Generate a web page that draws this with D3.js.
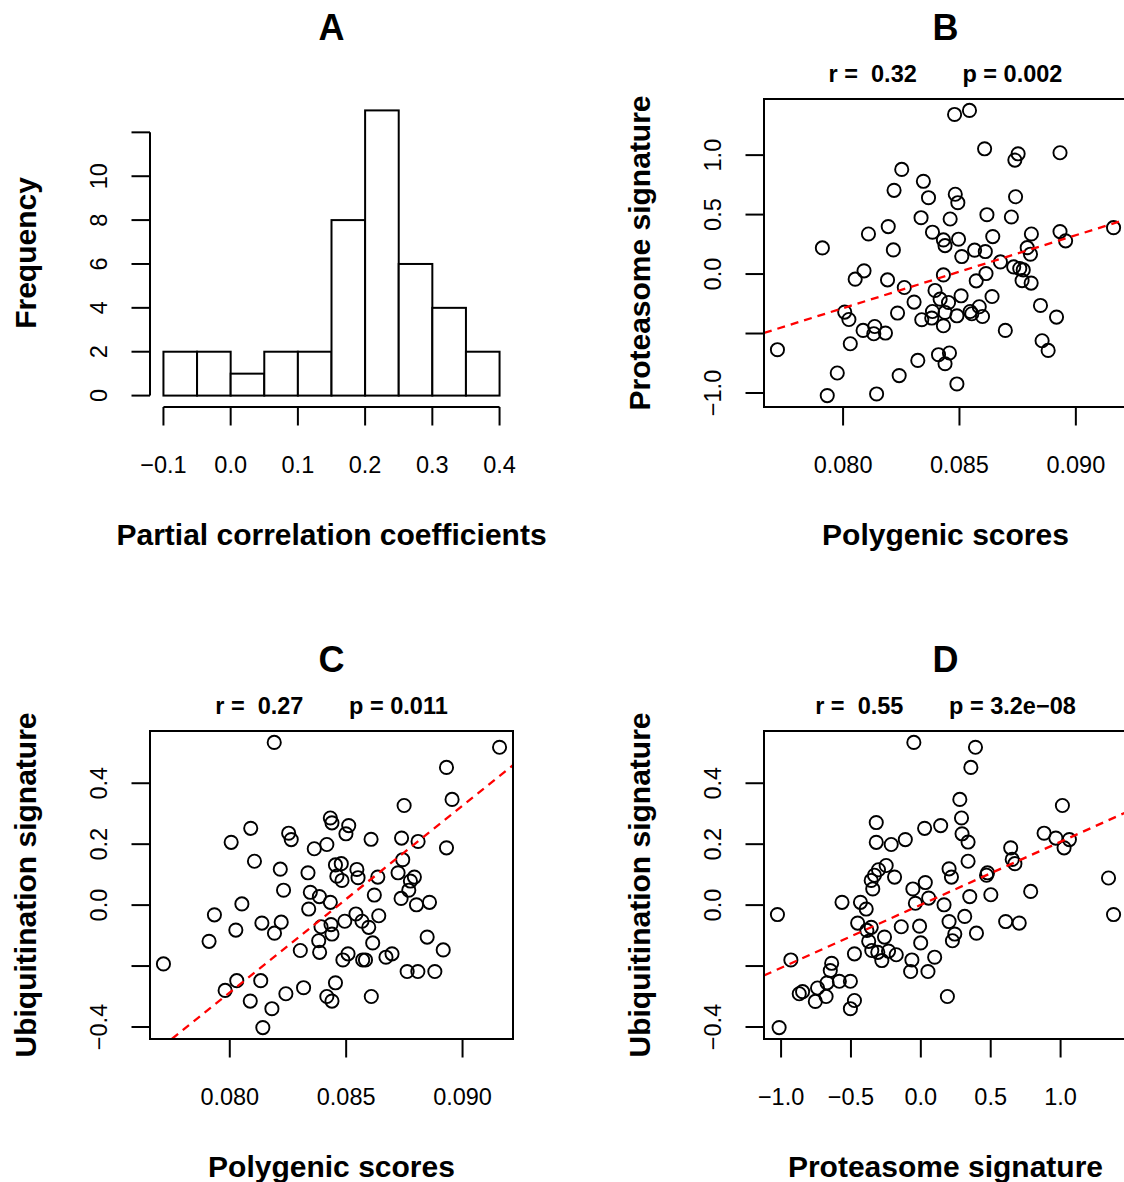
<!DOCTYPE html>
<html>
<head>
<meta charset="utf-8">
<script src="https://cdn.jsdelivr.net/npm/d3@7"></script>
<style>
  body { margin: 0; background: #fff; }
  svg { display: block; font-family: 'Liberation Sans', Arial, Helvetica, sans-serif; }
</style>
</head>
<body>
<svg id="fig" width="1124" height="1182"></svg>
<script>
// ---- A: histogram of partial correlation coefficients
const histBreaks = [-0.1, -0.05, 0, 0.05, 0.1, 0.15, 0.2, 0.25, 0.3, 0.35, 0.4];
const histCounts = [2, 2, 1, 2, 2, 8, 13, 6, 4, 2];
const histXTicks = [-0.1, 0, 0.1, 0.2, 0.3, 0.4];
const histYTicks = [0, 2, 4, 6, 8, 10, 12];
const histYLabels = ['0', '2', '4', '6', '8', '10', ''];

// ---- B: polygenic scores vs proteasome signature
const polygenicB = [0.08479, 0.08543, 0.08608, 0.08752, 0.08738, 0.08932, 0.08252, 0.08345, 0.08219, 0.08367,
  0.08482, 0.08493, 0.08741, 0.08335, 0.08460, 0.08618, 0.08723, 0.07911, 0.08109, 0.08194,
  0.08216, 0.08384, 0.08431, 0.08438, 0.08496, 0.08510, 0.08565, 0.08611, 0.08643, 0.08809,
  0.08932, 0.08956, 0.09162, 0.08791, 0.08805, 0.08676, 0.08733, 0.08759, 0.08774, 0.08769,
  0.08808, 0.08090, 0.08052, 0.08191, 0.08431, 0.08572, 0.08614, 0.08263, 0.08395, 0.08417,
  0.08453, 0.08507, 0.08640, 0.08305, 0.08007, 0.08025, 0.08234, 0.08338, 0.08384, 0.08381,
  0.08438, 0.08489, 0.08546, 0.08553, 0.08585, 0.08599, 0.08848, 0.08917, 0.08086, 0.08136,
  0.08132, 0.08182, 0.08031, 0.08431, 0.08697, 0.07718, 0.08855, 0.08881, 0.08321, 0.08410,
  0.08457, 0.08438, 0.07975, 0.08241, 0.07932, 0.08144, 0.08489];
const proteasomeB = [1.342, 1.376, 1.053, 1.011, 0.958, 1.020, 0.880, 0.780, 0.704, 0.642,
  0.671, 0.600, 0.650, 0.474, 0.463, 0.499, 0.480, 0.220, 0.337, 0.399,
  0.203, 0.352, 0.287, 0.239, 0.293, 0.147, 0.201, 0.189, 0.315, 0.337,
  0.357, 0.279, 0.390, 0.222, 0.167, 0.102, 0.060, 0.046, 0.035, -0.055,
  -0.076, 0.027, -0.043, -0.049, -0.007, -0.057, 0.004, -0.113, -0.138, -0.211,
  -0.239, -0.183, -0.189, -0.236, -0.320, -0.382, -0.328, -0.384, -0.315, -0.370,
  -0.323, -0.351, -0.315, -0.334, -0.275, -0.357, -0.264, -0.362, -0.474, -0.441,
  -0.502, -0.496, -0.586, -0.435, -0.474, -0.636, -0.561, -0.642, -0.726, -0.678,
  -0.664, -0.754, -0.832, -0.854, -1.022, -1.008, -0.924];

// ---- C: polygenic scores vs ubiquitination signature
const polygenicC = [0.08191, 0.09159, 0.08931, 0.08955, 0.08749, 0.08432, 0.08439, 0.08511, 0.08499, 0.08090,
  0.08253, 0.08264, 0.08006, 0.08607, 0.08738, 0.08809, 0.08931, 0.08417, 0.08363, 0.08106,
  0.08217, 0.08336, 0.08743, 0.08454, 0.08479, 0.08546, 0.08723, 0.08793, 0.08636, 0.08460,
  0.08482, 0.08551, 0.08776, 0.08231, 0.08346, 0.08385, 0.08432, 0.08621, 0.08736, 0.08769,
  0.08802, 0.08858, 0.08052, 0.07934, 0.08339, 0.08640, 0.08542, 0.08568, 0.08597, 0.08494,
  0.08435, 0.08392, 0.08138, 0.08221, 0.08192, 0.08026, 0.08439, 0.08382, 0.07911, 0.08614,
  0.08848, 0.08917, 0.08303, 0.08386, 0.08508, 0.08486, 0.08571, 0.08583, 0.08671, 0.08697,
  0.07715, 0.08762, 0.08808, 0.08881, 0.08030, 0.08133, 0.08454, 0.07980, 0.08317, 0.08241,
  0.08417, 0.08439, 0.08608, 0.08088, 0.08181, 0.08142];
const ubiquitinationC = [0.534, 0.518, 0.452, 0.347, 0.327, 0.286, 0.270, 0.261, 0.234, 0.252,
  0.236, 0.215, 0.206, 0.216, 0.220, 0.209, 0.188, 0.199, 0.185, 0.144,
  0.118, 0.106, 0.149, 0.132, 0.136, 0.117, 0.106, 0.092, 0.092, 0.095,
  0.081, 0.090, 0.079, 0.049, 0.042, 0.028, 0.009, 0.033, 0.022, 0.049,
  0.001, 0.009, 0.004, -0.032, -0.013, -0.035, -0.029, -0.053, -0.073, -0.053,
  -0.064, -0.071, -0.059, -0.056, -0.092, -0.082, -0.095, -0.117, -0.119, -0.124,
  -0.105, -0.147, -0.149, -0.155, -0.160, -0.180, -0.180, -0.180, -0.171, -0.160,
  -0.193, -0.218, -0.218, -0.218, -0.248, -0.248, -0.255, -0.280, -0.271, -0.291,
  -0.300, -0.315, -0.300, -0.315, -0.340, -0.402];

// ---- D: proteasome signature vs ubiquitination signature
const proteasomeD = [-0.050, 0.391, 0.358, 0.279, 1.013, -0.319, 0.291, 0.027, 0.142, 0.295,
  0.338, -0.319, -0.212, -0.111, 0.882, 0.966, 1.063, 1.025, 0.643, 0.654,
  0.673, 0.338, 0.202, 0.219, -0.248, -0.303, -0.332, -0.355, -0.188, 0.477,
  0.470, 1.343, 0.032, -0.344, -0.057, -1.026, 1.379, -0.564, -0.432, -0.391,
  -0.039, 0.056, 0.166, 0.350, 0.501, 0.786, -0.452, -0.355, -0.140, -0.009,
  0.202, 0.314, 0.607, 0.704, 0.243, 0.226, 0.398, -0.260, -0.373, -0.351,
  -0.308, -0.279, -0.231, -0.176, -0.001, 0.099, -0.064, -0.073, 0.051, -0.475,
  -0.930, -0.638, -0.648, -0.583, -0.504, -0.671, -0.739, -0.846, -0.870, -0.755,
  -0.678, -0.475, -0.504, 0.190, -1.014, -0.386];
const ubiquitinationD = [0.534, 0.518, 0.452, 0.347, 0.327, 0.271, 0.286, 0.252, 0.261, 0.234,
  0.207, 0.206, 0.199, 0.215, 0.236, 0.220, 0.215, 0.188, 0.188, 0.150,
  0.136, 0.144, 0.119, 0.092, 0.130, 0.116, 0.098, 0.081, 0.092, 0.106,
  0.098, 0.089, 0.074, 0.053, 0.053, -0.031, -0.031, 0.009, 0.009, -0.013,
  0.006, 0.023, 0.001, 0.028, 0.034, 0.045, -0.059, -0.073, -0.071, -0.069,
  -0.054, -0.037, -0.054, -0.059, -0.095, -0.117, -0.092, -0.105, -0.119, -0.149,
  -0.155, -0.182, -0.151, -0.163, -0.124, -0.171, -0.180, -0.218, -0.218, -0.160,
  -0.180, -0.191, -0.215, -0.250, -0.250, -0.255, -0.272, -0.284, -0.291, -0.316,
  -0.300, -0.313, -0.340, -0.300, -0.402, -0.083];

const polyTicks = [0.080, 0.085, 0.090];
const polyLabels = ['0.080', '0.085', '0.090'];
const protTicks = [-1, -0.5, 0, 0.5, 1];
const protYLabels = ['\u22121.0', '', '0.0', '0.5', '1.0'];
const protXLabels = ['\u22121.0', '\u22120.5', '0.0', '0.5', '1.0'];
const ubiqTicks = [-0.4, -0.2, 0, 0.2, 0.4];
const ubiqLabels = ['\u22120.4', '', '0.0', '0.2', '0.4'];

const statsB = 'r =  0.32       p = 0.002';
const statsC = 'r =  0.27       p = 0.011';
const statsD = 'r =  0.55       p = 3.2e\u221208';

// ---- layout
const W = 363, H = 308;
const TICK = 18.5;
const svg = d3.select('#fig');

// R-style axis range: data range widened by 4% each side
function widen(ext) {
  const r = ext[1] - ext[0];
  return [ext[0] - 0.04 * r, ext[1] + 0.04 * r];
}

function panel(left, top, letter) {
  const g = svg.append('g').attr('transform', `translate(${left},${top})`);
  g.append('text')
    .attr('x', W / 2).attr('y', -59)
    .attr('text-anchor', 'middle')
    .attr('font-size', 36).attr('font-weight', 'bold')
    .text(letter);
  return g;
}

function bottomAxis(g, x, ticks, labels, lineFrom, lineTo) {
  if (lineFrom !== undefined) {
    g.append('line').attr('x1', x(lineFrom)).attr('x2', x(lineTo))
      .attr('y1', H).attr('y2', H).attr('stroke', '#000').attr('stroke-width', 2);
  }
  ticks.forEach((t, i) => {
    g.append('line').attr('x1', x(t)).attr('x2', x(t)).attr('y1', H).attr('y2', H + TICK)
      .attr('stroke', '#000').attr('stroke-width', 2);
    g.append('text').attr('x', x(t)).attr('y', H + 66)
      .attr('text-anchor', 'middle').attr('font-size', 23.5).text(labels[i]);
  });
}

function leftAxis(g, y, ticks, labels, lineFrom, lineTo) {
  if (lineFrom !== undefined) {
    g.append('line').attr('x1', 0).attr('x2', 0)
      .attr('y1', y(lineFrom)).attr('y2', y(lineTo)).attr('stroke', '#000').attr('stroke-width', 2);
  }
  ticks.forEach((t, i) => {
    g.append('line').attr('x1', -TICK).attr('x2', 0).attr('y1', y(t)).attr('y2', y(t))
      .attr('stroke', '#000').attr('stroke-width', 2);
    if (labels[i]) {
      g.append('text').attr('transform', `translate(-43,${y(t)}) rotate(-90)`)
        .attr('text-anchor', 'middle').attr('font-size', 23.5).text(labels[i]);
    }
  });
}

function axisTitles(g, xTitle, yTitle) {
  g.append('text').attr('x', W / 2).attr('y', H + 138)
    .attr('text-anchor', 'middle').attr('font-size', 30).attr('font-weight', 'bold').text(xTitle);
  g.append('text').attr('transform', `translate(-114.5,${H / 2}) rotate(-90)`)
    .attr('text-anchor', 'middle').attr('font-size', 30).attr('font-weight', 'bold').text(yTitle);
}

function lm(xs, ys) {
  const mx = d3.mean(xs), my = d3.mean(ys);
  let sxy = 0, sxx = 0;
  xs.forEach((v, i) => { sxy += (v - mx) * (ys[i] - my); sxx += (v - mx) * (v - mx); });
  const b = sxy / sxx;
  return { a: my - b * mx, b: b };
}

let clipId = 0;
function scatter(left, top, letter, xs, ys, opt) {
  const g = panel(left, top, letter);
  const x = d3.scaleLinear().domain(widen(d3.extent(xs))).range([0, W]);
  const y = d3.scaleLinear().domain(widen(d3.extent(ys))).range([H, 0]);

  g.append('text').attr('x', W / 2).attr('y', -17.3)
    .attr('text-anchor', 'middle').attr('font-size', 23.5).attr('font-weight', 'bold')
    .attr('xml:space', 'preserve').style('white-space', 'pre')
    .text(opt.stats);

  const id = 'clip' + (clipId++);
  g.append('clipPath').attr('id', id).append('rect').attr('width', W).attr('height', H);

  g.append('g').selectAll('circle')
    .data(xs.map((v, i) => [v, ys[i]]))
    .join('circle')
    .attr('cx', d => x(d[0])).attr('cy', d => y(d[1])).attr('r', 6.6)
    .attr('fill', 'none').attr('stroke', '#000').attr('stroke-width', 1.9);

  const fit = opt.fit;
  const [d0, d1] = x.domain();
  g.append('line').attr('clip-path', `url(#${id})`)
    .attr('x1', x(d0)).attr('y1', y(fit.a + fit.b * d0))
    .attr('x2', x(d1)).attr('y2', y(fit.a + fit.b * d1))
    .attr('stroke', '#ff0000').attr('stroke-width', 2.3).attr('stroke-dasharray', '8,6');

  g.append('rect').attr('width', W).attr('height', H)
    .attr('fill', 'none').attr('stroke', '#000').attr('stroke-width', 2);

  bottomAxis(g, x, opt.xTicks, opt.xLabels);
  leftAxis(g, y, opt.yTicks, opt.yLabels);
  axisTitles(g, opt.xTitle, opt.yTitle);
}

// ---- A
(function () {
  const g = panel(150, 99, 'A');
  const x = d3.scaleLinear().domain(widen([histBreaks[0], histBreaks[histBreaks.length - 1]])).range([0, W]);
  const y = d3.scaleLinear().domain(widen([0, d3.max(histCounts)])).range([H, 0]);
  g.append('g').selectAll('rect')
    .data(histCounts)
    .join('rect')
    .attr('x', (d, i) => x(histBreaks[i]))
    .attr('width', (d, i) => x(histBreaks[i + 1]) - x(histBreaks[i]))
    .attr('y', d => y(d))
    .attr('height', d => y(0) - y(d))
    .attr('fill', '#fff').attr('stroke', '#000').attr('stroke-width', 2);
  bottomAxis(g, x, histXTicks, histXTicks.map(t => d3.format('.1f')(t).replace('-', '\u2212')),
    histXTicks[0], histXTicks[histXTicks.length - 1]);
  leftAxis(g, y, histYTicks, histYLabels, histYTicks[0], histYTicks[histYTicks.length - 1]);
  axisTitles(g, 'Partial correlation coefficients', 'Frequency');
})();

// the dashed line in C in the source figure is the B fit, not a fit of C's own points
const fitB = lm(polygenicB, proteasomeB);
const fitD = lm(proteasomeD, ubiquitinationD);

scatter(764, 99, 'B', polygenicB, proteasomeB, {
  stats: statsB, fit: fitB, xTicks: polyTicks, xLabels: polyLabels, yTicks: protTicks, yLabels: protYLabels,
  xTitle: 'Polygenic scores', yTitle: 'Proteasome signature'
});
scatter(150, 731, 'C', polygenicC, ubiquitinationC, {
  stats: statsC, fit: fitB, xTicks: polyTicks, xLabels: polyLabels, yTicks: ubiqTicks, yLabels: ubiqLabels,
  xTitle: 'Polygenic scores', yTitle: 'Ubiquitination signature'
});
scatter(764, 731, 'D', proteasomeD, ubiquitinationD, {
  stats: statsD, fit: fitD, xTicks: protTicks, xLabels: protXLabels, yTicks: ubiqTicks, yLabels: ubiqLabels,
  xTitle: 'Proteasome signature', yTitle: 'Ubiquitination signature'
});
</script>
</body>
</html>
